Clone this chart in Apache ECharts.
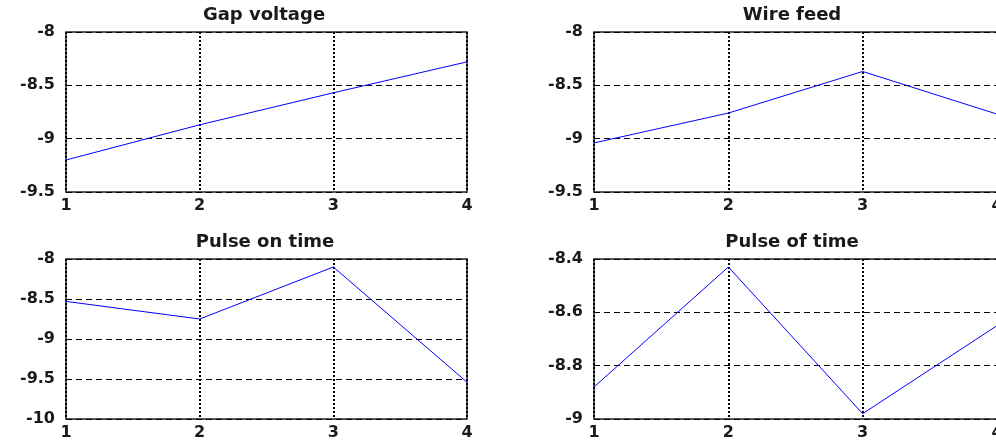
<!DOCTYPE html>
<html>
<head>
<meta charset="utf-8">
<script src="https://cdn.jsdelivr.net/npm/echarts@6/dist/echarts.min.js"></script>
<style>
html,body{margin:0;padding:0;background:#fff;}
#chart{width:996px;height:441px;}
</style>
</head>
<body>
<div id="chart"></div>
<script>
var xValues = [1, 2, 3, 4];
var titles = ['Gap voltage', 'Wire feed', 'Pulse on time', 'Pulse of time'];
var gapVoltage = [-9.2, -8.87, -8.57, -8.28];
var wireFeed = [-9.04, -8.76, -8.37, -8.77];
var pulseOnTime = [-8.53, -8.75, -8.1, -9.54];
var pulseOffTime = [-8.88, -8.43, -8.98, -8.65];
var yRanges = [[-9.5, -8, 0.5], [-9.5, -8, 0.5], [-10, -8, 0.5], [-9, -8.4, 0.2]];
var seriesData = [gapVoltage, wireFeed, pulseOnTime, pulseOffTime];

var FONT = 'DejaVu Sans';
var grids = [
  {left: 66, top: 32, width: 401, height: 160},
  {left: 594, top: 32, width: 403, height: 160},
  {left: 66, top: 259, width: 401, height: 160},
  {left: 594, top: 259, width: 403, height: 160}
];
var titlePos = [[264, 6], [792, 6], [265, 233], [792, 233]];

var option = {
  animation: false,
  backgroundColor: '#fff',
  title: titles.map(function (t, i) {
    return {
      text: t, left: titlePos[i][0], top: titlePos[i][1], textAlign: 'center', padding: 0,
      textStyle: {fontFamily: FONT, fontSize: 18, fontWeight: 'bold', color: '#1a1a1a'}
    };
  }),
  grid: grids.map(function (g) {
    return Object.assign({show: true, borderColor: '#222', borderWidth: 1.5, backgroundColor: 'transparent',
      containLabel: false, outerBoundsMode: 'none'}, g);
  }),
  xAxis: grids.map(function (g, i) {
    return {
      type: 'value', gridIndex: i, min: 1, max: 4, interval: 1,
      axisLine: {show: false}, axisTick: {show: false},
      axisLabel: {margin: 6, fontFamily: FONT, fontSize: 16, fontWeight: 'bold', color: '#1a1a1a',
        showMinLabel: true, showMaxLabel: true},
      splitLine: {show: true, lineStyle: {color: '#000', type: [2, 2], width: 2}}
    };
  }),
  yAxis: grids.map(function (g, i) {
    return {
      type: 'value', gridIndex: i, min: yRanges[i][0], max: yRanges[i][1], interval: yRanges[i][2],
      axisLine: {show: false}, axisTick: {show: false},
      axisLabel: {margin: 11, fontFamily: FONT, fontSize: 16, fontWeight: 'bold', color: '#1a1a1a',
        formatter: function (v) { return String(parseFloat(v.toFixed(2))); }},
      splitLine: {show: true, lineStyle: {color: '#000', type: [6, 4], width: 1}}
    };
  }),
  series: seriesData.map(function (d, i) {
    return {
      type: 'line', xAxisIndex: i, yAxisIndex: i, symbol: 'none',
      lineStyle: {color: '#0000ff', width: 1},
      data: xValues.map(function (x, k) { return [x, d[k]]; })
    };
  })
};
var chart = echarts.init(document.getElementById('chart'), null, {renderer: 'canvas'});
chart.setOption(option);
</script>
</body>
</html>
